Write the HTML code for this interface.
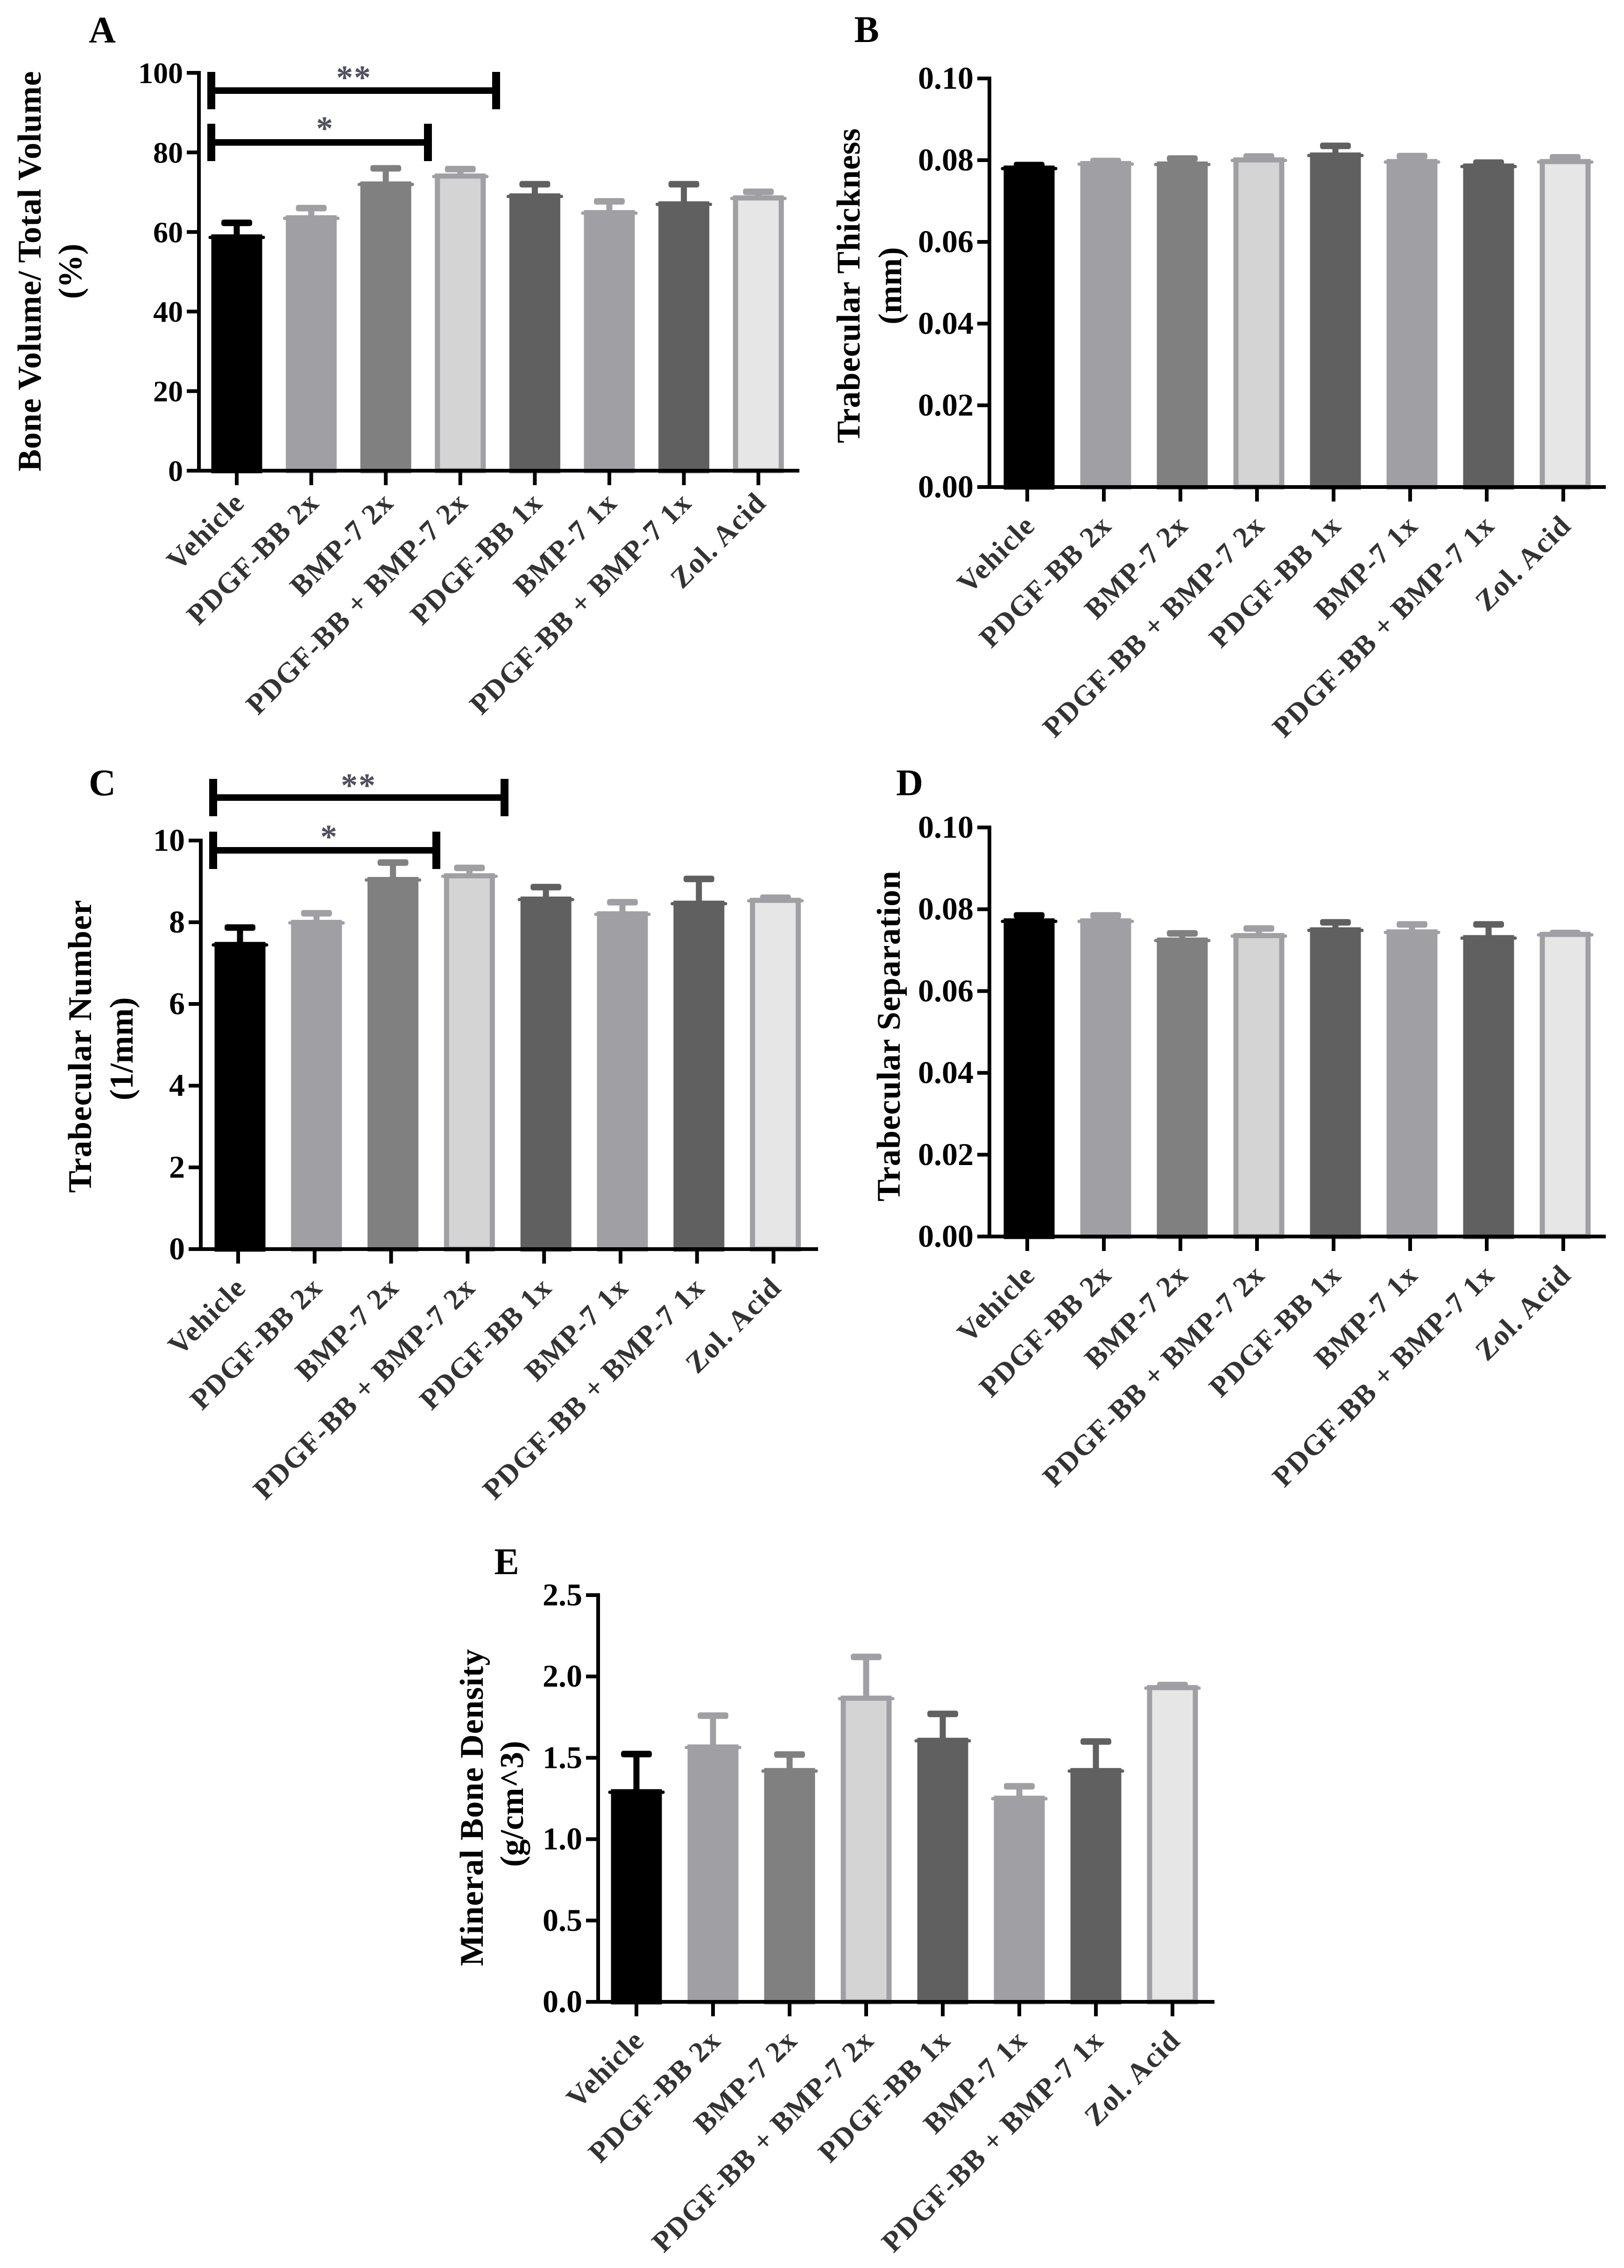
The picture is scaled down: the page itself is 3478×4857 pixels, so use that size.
<!DOCTYPE html>
<html lang="en">
<head>
<meta charset="utf-8">
<title>Bone microarchitecture bar charts</title>
<style>
html,body{margin:0;padding:0;background:#fff;}
svg{display:block;}
text{font-family:"Liberation Serif","Times New Roman",serif;font-weight:bold;fill:#000;}
.panel-letter{font-size:80px;text-anchor:middle;}
.axis-title{font-size:71px;text-anchor:middle;}
.x-label{font-size:62px;letter-spacing:2px;text-anchor:end;fill:#333;}
.star{font-size:72px;text-anchor:middle;fill:#50505c;}
</style>
</head>
<body>
<svg id="figure" xmlns="http://www.w3.org/2000/svg" width="3478" height="4857" viewBox="0 0 3478 4857">
  <rect x="0" y="0" width="3478" height="4857" fill="#fff"/>

  <text class="panel-letter" x="219" y="91">A</text>
  <text class="panel-letter" x="1856" y="90">B</text>
  <text class="panel-letter" x="219" y="1703">C</text>
  <text class="panel-letter" x="1948" y="1703">D</text>
  <text class="panel-letter" x="1085" y="3371">E</text>

  <text class="axis-title" transform="translate(87,581) rotate(-90)" textLength="857" lengthAdjust="spacing">Bone Volume/ Total Volume</text>
  <text class="axis-title" transform="translate(174,581) rotate(-90)">(%)</text>

  <text class="axis-title" transform="translate(1841,612) rotate(-90)" textLength="674" lengthAdjust="spacing">Trabecular Thickness</text>
  <text class="axis-title" transform="translate(1930,612) rotate(-90)">(mm)</text>

  <text class="axis-title" transform="translate(195,2241) rotate(-90)" textLength="627" lengthAdjust="spacing">Trabecular Number</text>
  <text class="axis-title" transform="translate(284,2246) rotate(-90)">(1/mm)</text>

  <text class="axis-title" transform="translate(1927,2219) rotate(-90)" textLength="708" lengthAdjust="spacing">Trabecular Separation</text>

  <text class="axis-title" transform="translate(1034,3871) rotate(-90)" textLength="679" lengthAdjust="spacing">Mineral Bone Density</text>
  <text class="axis-title" transform="translate(1120,3863) rotate(-90)">(g/cm^3)</text>
</svg>

<script>
const categories = ["Vehicle","PDGF-BB 2x","BMP-7 2x","PDGF-BB + BMP-7 2x","PDGF-BB 1x","BMP-7 1x","PDGF-BB + BMP-7 1x","Zol. Acid"];

const aValues = [58.7,63.5,72.0,74.0,69.0,64.8,67.0,68.5];
const aErrors = [62.3,66.0,76.0,75.8,72.0,67.7,72.0,70.1];
const aTicks  = ["0","20","40","60","80","100"];
const aTickValues = [0,20,40,60,80,100];

const bValues = [0.0780,0.0791,0.0790,0.0800,0.0812,0.0796,0.0785,0.0796];
const bErrors = [0.0788,0.0798,0.0804,0.0809,0.0835,0.0810,0.0794,0.0807];
const bTicks  = ["0.00","0.02","0.04","0.06","0.08","0.10"];
const bTickValues = [0,0.02,0.04,0.06,0.08,0.10];

const cValues = [7.45,7.99,9.04,9.13,8.56,8.20,8.46,8.53];
const cErrors = [7.87,8.22,9.46,9.33,8.86,8.49,9.06,8.60];
const cTicks  = ["0","2","4","6","8","10"];
const cTickValues = [0,2,4,6,8,10];

const dValues = [0.0771,0.0771,0.0724,0.0735,0.0749,0.0744,0.0730,0.0738];
const dErrors = [0.0785,0.0785,0.0741,0.0753,0.0768,0.0763,0.0763,0.0742];
const dTicks  = ["0.00","0.02","0.04","0.06","0.08","0.10"];
const dTickValues = [0,0.02,0.04,0.06,0.08,0.10];

const eValues = [1.29,1.565,1.42,1.865,1.606,1.25,1.42,1.93];
const eErrors = [1.523,1.759,1.52,2.12,1.77,1.325,1.60,1.947];
const eTicks  = ["0.0","0.5","1.0","1.5","2.0","2.5"];
const eTickValues = [0,0.5,1,1.5,2,2.5];

const SVGNS = "http://www.w3.org/2000/svg";
const figure = document.getElementById("figure");
const BORDER = "#a0a0a4";
const barStyles = [
  {fill:"#000000",stroke:"#000000"},
  {fill:"#a0a0a4",stroke:"#a0a0a4"},
  {fill:"#808080",stroke:"#808080"},
  {fill:"#d4d4d4",stroke:BORDER},
  {fill:"#606060",stroke:"#606060"},
  {fill:"#a0a0a4",stroke:"#a0a0a4"},
  {fill:"#606060",stroke:"#606060"},
  {fill:"#e6e6e6",stroke:BORDER}
];

function make(parent, tag, attrs, text) {
  const el = document.createElementNS(SVGNS, tag);
  for (const k in attrs) el.setAttribute(k, attrs[k]);
  if (text !== undefined) el.textContent = text;
  parent.appendChild(el);
  return el;
}

function drawPanel(cfg) {
  const g = make(figure, "g", {});
  
  

  const max = cfg.tickValues[cfg.tickValues.length - 1];
  const yScale = v => cfg.y0 - (v / max) * (cfg.y0 - cfg.yTop);
  const xScale = i => cfg.x0 + i * cfg.step;
  const barW = 109, borderW = 11, tickW = 8;

  // bars, error bars
  cfg.values.forEach((v, i) => {
    const cx = xScale(i) + cfg.barShift;
    const top = yScale(v);
    const style = barStyles[i];

    const errTop = yScale(cfg.errors[i]);
    const stem = make(g, "rect", {x: cx - 6.5, y: errTop, width: 13, height: top - errTop, fill: style.stroke});
    
    
    const cap = make(g, "rect", {x: cx - 33, y: errTop - 7, width: 66, height: 14, rx: 5, fill: style.stroke});
    
    

    const bar = make(g, "rect", {
      x: cx - barW / 2 + borderW / 2,
      y: top - 6 + borderW / 2,
      width: barW - borderW,
      height: cfg.y0 - top + 6 - borderW / 2,
      fill: style.fill, stroke: style.stroke, "stroke-width": borderW
    });
    
    
    const lip = make(g, "rect", {x: cx - barW / 2 - 6, y: top - 3, width: barW + 12, height: 7, rx: 3, fill: style.stroke});
    
    
  });

  // axes
  const yAxis = make(g, "rect", {x: cfg.axisX - 4, y: cfg.yTop - 4, width: 8, height: cfg.y0 - cfg.yTop + 8, fill: "#000"});
  
  
  const xAxis = make(g, "rect", {x: cfg.axisX - 4, y: cfg.y0 - 4, width: cfg.xEnd - cfg.axisX + 4, height: 8, fill: "#000"});
  
  

  cfg.tickValues.forEach((t, i) => {
    const y = yScale(t);
    const tick = make(g, "rect", {x: cfg.axisX - 26, y: y - 4, width: 24, height: 8, fill: "#000"});
    
    
    const lab = make(g, "text", {x: cfg.axisX - 34, y: y + 22, "text-anchor": "end", "font-size": cfg.tickFont}, cfg.tickLabels[i]);
    
    
  });

  categories.forEach((c, i) => {
    const x = xScale(i);
    const tick = make(g, "rect", {x: x - tickW / 2, y: cfg.y0, width: tickW, height: 31, fill: "#000"});
    
    
    const lab = make(g, "text", {"class": "x-label", transform: "translate(" + (x + 20) + "," + (cfg.y0 + 86 + cfg.labelDy) + ") rotate(-45)"}, c);
    
    
  });

  // significance brackets
  (cfg.brackets || []).forEach(b => {
    const h = make(g, "rect", {x: b.left, y: b.y - 7, width: b.right - b.left, height: 14, fill: "#000"});
    
    
    [b.left, b.right].forEach(xp => {
      const v = make(g, "rect", {x: xp - 8, y: b.y - 40, width: 17, height: 80, fill: "#000"});
      
      
    });
    const s = make(g, "text", {"class": "star", x: (b.starX), y: b.starY, "letter-spacing": "2"}, b.stars);
    
    
  });
}

drawPanel({id:"a", values:aValues, errors:aErrors, tickLabels:aTicks, tickValues:aTickValues,
  axisX:426, y0:1008, yTop:156, x0:507, step:159.6, barShift:0, xEnd:1712, tickFont:64, labelDy:-14,
  brackets:[
    {left:452, right:1062, y:194, stars:"**", starX:758, starY:190},
    {left:452, right:916, y:305, stars:"*", starX:696, starY:299}
  ]});
drawPanel({id:"b", values:bValues, errors:bErrors, tickLabels:bTicks, tickValues:bTickValues,
  axisX:2119, y0:1043, yTop:168, x0:2200, step:164, barShift:4, xEnd:3439, tickFont:68, labelDy:0});
drawPanel({id:"c", values:cValues, errors:cErrors, tickLabels:cTicks, tickValues:cTickValues,
  axisX:430, y0:2675, yTop:1800, x0:510, step:163.8, barShift:4, xEnd:1752, tickFont:68, labelDy:0,
  brackets:[
    {left:456, right:1080, y:1708, stars:"**", starX:768, starY:1706},
    {left:456, right:934, y:1821, stars:"*", starX:705, starY:1816}
  ]});
drawPanel({id:"d", values:dValues, errors:dErrors, tickLabels:dTicks, tickValues:dTickValues,
  axisX:2119, y0:2648, yTop:1772, x0:2200, step:164, barShift:4, xEnd:3439, tickFont:68, labelDy:0});
drawPanel({id:"e", values:eValues, errors:eErrors, tickLabels:eTicks, tickValues:eTickValues,
  axisX:1281, y0:4287, yTop:3416, x0:1363, step:164, barShift:0, xEnd:2601, tickFont:68, labelDy:0});
</script>
</body>
</html>
